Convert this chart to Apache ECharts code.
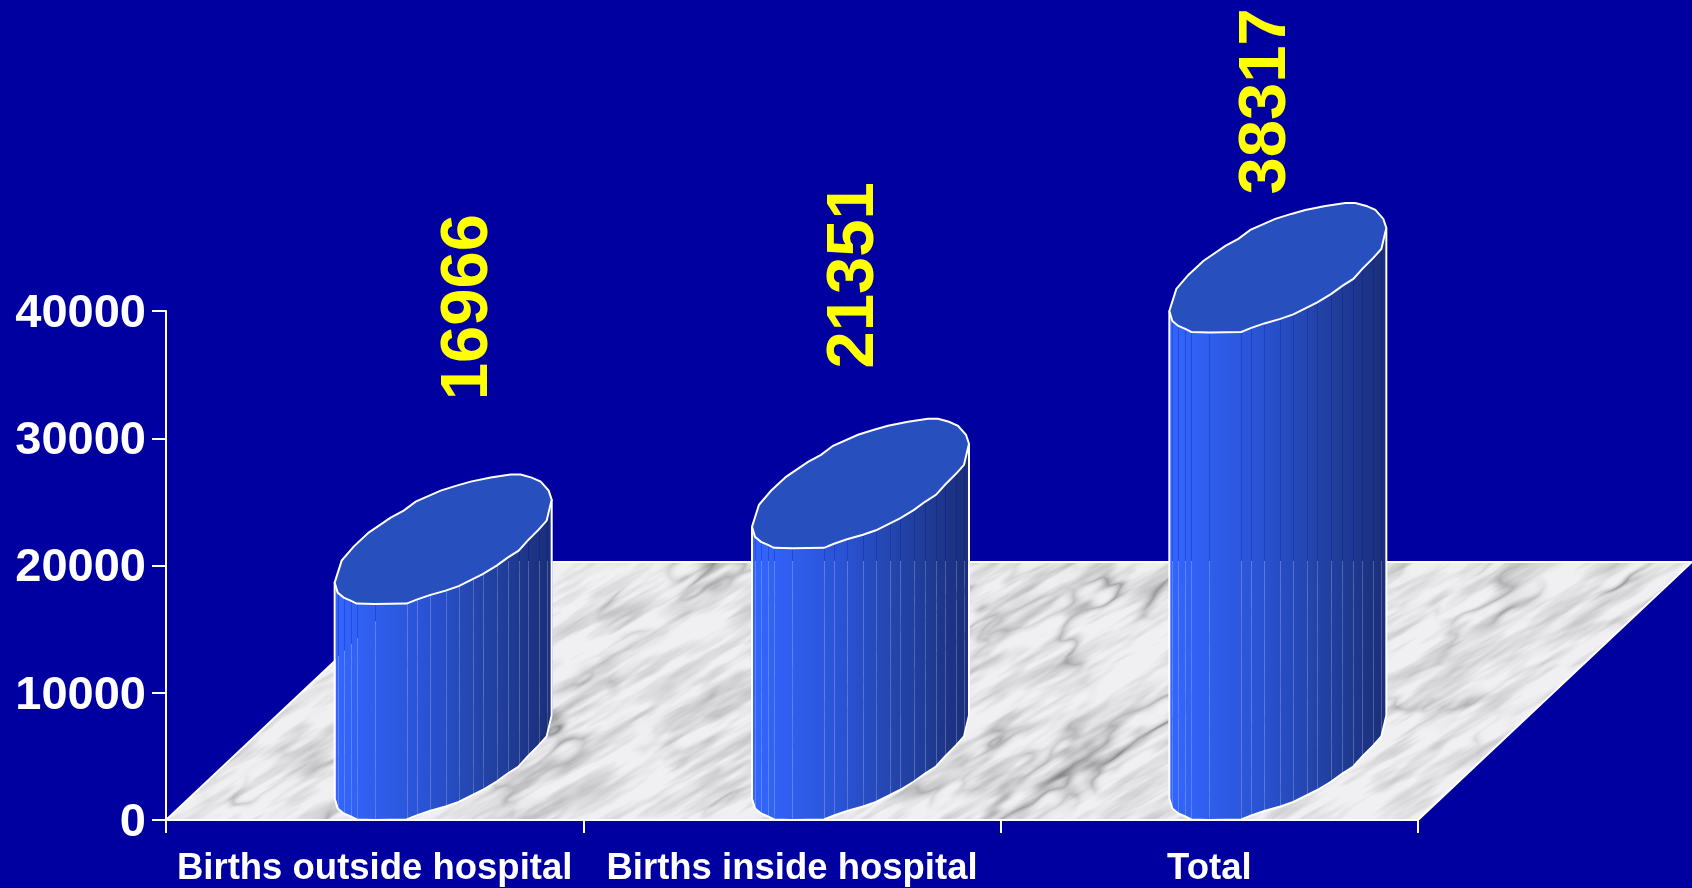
<!DOCTYPE html>
<html>
<head>
<meta charset="utf-8">
<style>
  html, body { margin: 0; padding: 0; background: #0000a0; }
  #chart { width: 1692px; height: 888px; }
</style>
<script src="https://cdn.jsdelivr.net/npm/echarts@6/dist/echarts.min.js"></script>
</head>
<body>
<div id="chart"></div>
<script>
const categories = ['Births outside hospital', 'Births inside hospital', 'Total'];
const births = [16966, 21351, 38317];
const yTicks = [0, 10000, 20000, 30000, 40000];

// cylinder symbol, px offsets from the left point of the cap
const capFront = [[0, 0], [3, 10], [9, 15], [16, 18], [22, 21], [40, 21.5], [72, 21], [82, 17], [95, 12.5], [111, 8], [124, 3.5], [138, -3.5], [148, -8.5], [162, -17], [173, -25], [184, -32], [193, -42], [204, -53], [212, -62], [217, -83]];
const capBack = [[214, -92], [206, -101], [197, -105], [186, -108], [176, -108], [156, -105], [136, -101], [122, -97], [106, -92], [81, -81], [69, -72], [56, -65], [34, -50], [19, -36], [7, -22]];
// the value labels float at their own spot above each bar
const labelDx = [94, 63, 57];
const labelDy = [-297, -273, -231];
const floorDepth = [274, -258];

function hash(x, y) {
    let h = (x * 374761393 + y * 668265263) | 0;
    h = Math.imul(h ^ (h >>> 13), 1274126177);
    return ((h ^ (h >>> 16)) >>> 0) / 4294967295;
}
function noise(x, y) {
    const xi = Math.floor(x), yi = Math.floor(y);
    let fx = x - xi, fy = y - yi;
    fx = fx * fx * (3 - 2 * fx);
    fy = fy * fy * (3 - 2 * fy);
    const a = hash(xi, yi), b = hash(xi + 1, yi), c = hash(xi, yi + 1), d = hash(xi + 1, yi + 1);
    return (a + (b - a) * fx) * (1 - fy) + (c + (d - c) * fx) * fy;
}
function fbm(x, y) {
    return 0.55 * noise(x, y) + 0.3 * noise(x * 2.1 + 9, y * 2.1 + 4) + 0.15 * noise(x * 4.3 + 3, y * 4.3 + 7);
}
// marble floor texture, only painted where the floor is
function marble() {
    const c = document.createElement('canvas');
    c.width = 1692;
    c.height = 888;
    const ctx = c.getContext('2d');
    const img = ctx.createImageData(1692, 888);
    for (let y = 555; y < 826; y++) {
        for (let x = 160; x < 1692; x++) {
            const u = x * 0.86 - y * 0.5, v = x * 0.5 + y * 0.86;
            const streak = fbm(u / 58, v / 9);
            const ridge = 1 - Math.abs(2 * fbm(u / 80 + 40, v / 26 + 11) - 1);
            const mask = Math.max(0, fbm(u / 110 + 7, v / 60 + 3) - 0.42) * 3.2;
            const t = Math.max(0, ridge - 0.7) / 0.3;
            let g = 240 - Math.max(0, streak - 0.42) * 90;
            g -= t * t * 70 * mask;
            g = Math.max(135, g);
            const i = (y * 1692 + x) * 4;
            img.data[i] = g;
            img.data[i + 1] = g;
            img.data[i + 2] = g + 2;
            img.data[i + 3] = 255;
        }
    }
    ctx.putImageData(img, 0, 0);
    return c;
}
const marbleCanvas = marble();

function wallColor(t) {
    const stops = [[0, [51, 102, 255]], [0.4, [42, 84, 214]], [0.7, [34, 66, 165]], [1, [26, 46, 120]]];
    for (let i = 1; i < stops.length; i++) {
        if (t <= stops[i][0]) {
            const s = (t - stops[i - 1][0]) / (stops[i][0] - stops[i - 1][0]);
            const a = stops[i - 1][1], b = stops[i][1];
            return 'rgb(' + a.map((v, k) => Math.round(v + (b[k] - v) * s)).join(',') + ')';
        }
    }
    return 'rgb(26,46,120)';
}

function renderFloor(params, api) {
    const a = api.coord([0, 0]);
    const left = a[0] - api.size([1, 0])[0] / 2;
    const right = left + api.size([1, 0])[0] * categories.length;
    const y = a[1];
    return {
        type: 'polygon',
        shape: { points: [[left, y], [right, y], [right + floorDepth[0], y + floorDepth[1]], [left + floorDepth[0], y + floorDepth[1]]] },
        style: { fill: { image: marbleCanvas, repeat: 'no-repeat' }, stroke: '#fff', lineWidth: 2 }
    };
}

function renderBar(params, api) {
    const i = api.value(0), value = api.value(1);
    const base = api.coord([i, 0]), top = api.coord([i, value]);
    const x0 = base[0] - 40, h = base[1] - top[1], y0 = top[1] - 21.5;
    const pt = p => [x0 + p[0], y0 + p[1]];
    const down = p => [x0 + p[0], y0 + p[1] + h];
    const width = capFront[capFront.length - 1][0];
    const snap = v => Math.round(v) + 0.5;
    const children = [];
    // wall facets, the thin seams between them let the background through
    for (let k = 0; k < capFront.length - 1; k++) {
        const p = capFront[k], q = capFront[k + 1];
        const xa = snap(x0 + p[0]), xb = snap(x0 + q[0]);
        children.push({
            type: 'polygon',
            shape: { points: [[xa, y0 + p[1]], [xb, y0 + q[1]], [xb, y0 + q[1] + h], [xa, y0 + p[1] + h]] },
            style: {
                fill: new echarts.graphic.LinearGradient(0, 0, 1, 0, [
                    { offset: 0, color: wallColor(p[0] / width) },
                    { offset: 1, color: wallColor(q[0] / width) }
                ])
            }
        });
    }
    // silhouette of the wall
    children.push({
        type: 'polyline',
        shape: { points: [pt(capFront[0])].concat(capFront.map(down), [pt(capFront[capFront.length - 1])]) },
        style: { fill: null, stroke: '#fff', lineWidth: 2 }
    });
    // top cap
    children.push({
        type: 'polygon',
        shape: { points: capFront.concat(capBack).map(pt) },
        style: { fill: '#274fbd', stroke: '#fff', lineWidth: 2 }
    });
    children.push({
        type: 'text',
        x: base[0] + labelDx[i],
        y: top[1] + labelDy[i],
        rotation: Math.PI / 2,
        style: {
            text: String(value),
            fill: '#ffff00',
            font: 'bold 67px "Liberation Sans", Arial, sans-serif',
            align: 'center',
            verticalAlign: 'middle'
        }
    });
    return { type: 'group', children: children };
}

const chart = echarts.init(document.getElementById('chart'));
chart.setOption({
    animation: false,
    backgroundColor: '#0000a0',
    grid: { left: 166, right: 274, top: 311, bottom: 68 },
    xAxis: {
        type: 'category',
        data: categories,
        z: 2,
        axisLine: { lineStyle: { color: '#fff', width: 2 } },
        axisTick: { show: true, interval: 0, alignWithLabel: false, length: 13, lineStyle: { color: '#fff', width: 2 } },
        axisLabel: {
            color: '#fff',
            fontSize: 36.5,
            fontWeight: 'bold',
            fontFamily: '"Liberation Sans", Arial, sans-serif',
            margin: 30,
            interval: 0
        }
    },
    yAxis: {
        type: 'value',
        min: yTicks[0],
        max: yTicks[yTicks.length - 1],
        interval: yTicks[1] - yTicks[0],
        z: 2,
        splitLine: { show: false },
        axisLine: { show: true, lineStyle: { color: '#fff', width: 2 } },
        axisTick: { show: true, length: 14, lineStyle: { color: '#fff', width: 2 } },
        axisLabel: {
            color: '#fff',
            fontSize: 47,
            fontWeight: 'bold',
            fontFamily: '"Liberation Sans", Arial, sans-serif',
            margin: 20,
            verticalAlign: 'top',
            lineHeight: 6,
            formatter: v => String(v)
        }
    },
    series: [
        {
            type: 'custom',
            z: 1,
            silent: true,
            clip: false,
            renderItem: renderFloor,
            data: [[0, 0]]
        },
        {
            type: 'custom',
            z: 3,
            silent: true,
            clip: false,
            renderItem: renderBar,
            encode: { x: 0, y: 1 },
            data: births.map((v, i) => [i, v])
        }
    ]
});
</script>
</body>
</html>
